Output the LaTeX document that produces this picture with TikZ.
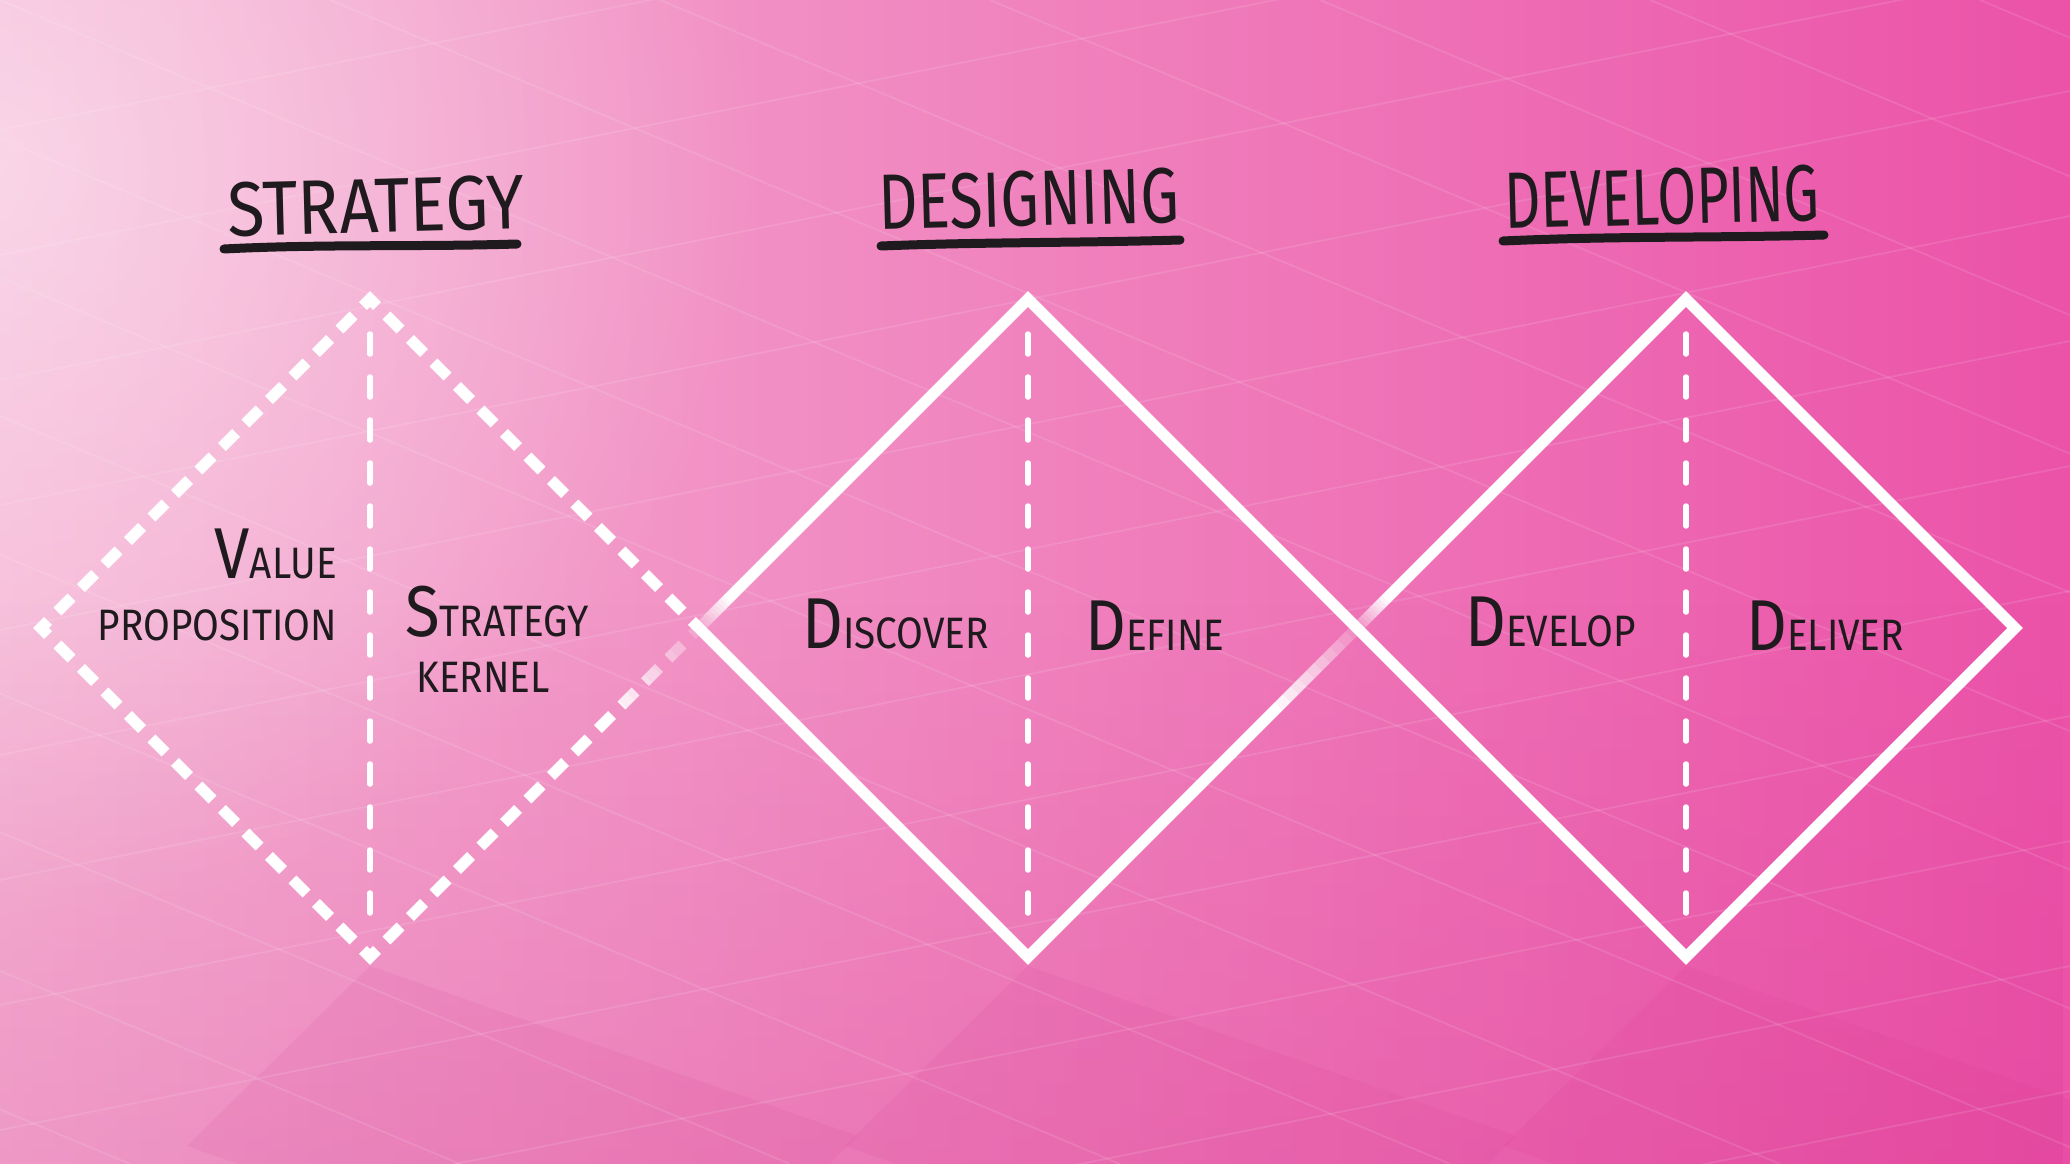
\documentclass[tikz,border=0pt]{standalone}
\usepackage{fontspec}
\usetikzlibrary{calc,fadings}
\newfontfamily\hand[FakeStretch=0.88]{Fira Sans}
\definecolor{bgL}{HTML}{F5B3D4}
\definecolor{bgM}{HTML}{F07BBA}
\definecolor{bgR}{HTML}{EB52A8}
\definecolor{ink}{HTML}{1E1A1D}
\definecolor{shadowc}{HTML}{D42F8C}
\tikzfading[name=glowfade, inner color=transparent!0, outer color=transparent!100]
\tikzfading[name=upfade, top color=transparent!100, bottom color=transparent!0]
\newcommand\capbig[1]{{\fontsize{72}{72}\selectfont #1}}
\newcommand\capsmall[1]{{\fontsize{44}{44}\selectfont #1}}
\tikzset{
  diamondline/.style={white, line width=11pt, line join=miter, miter limit=10},
  midline/.style={white, line width=5.5pt, line cap=round, dash pattern=on 20pt off 23pt},
  gridline/.style={white, opacity=0.11, line width=1.8pt},
  ttl/.style={inner sep=0pt, text=ink, font=\hand},
  lbl/.style={inner sep=0pt, text=ink, font=\hand},
  uline/.style={ink, line width=9pt, line cap=round},
  shadowpoly/.style={fill=shadowc, fill opacity=0.09},
}
\begin{document}
\begin{tikzpicture}[x=1pt,y=-1pt]
\useasboundingbox (0,0) rectangle (2070,1164);
\begin{scope}
\clip (0,0) rectangle (2070,1164);
\shade[left color=bgL, middle color=bgM, right color=bgR] (0,0) rectangle (2070,1164);
\fill[white, opacity=0.45, path fading=glowfade] (0,170) circle (760);
\fill[shadowc, opacity=0.2, path fading=upfade] (0,600) rectangle (2070,1164);
% shadows
\foreach \cx in {370,1028,1686}{
  \fill[shadowpoly] (\cx,966) -- (\cx-183,1146) -- (\cx+305,1316) -- (\cx+488,1136) -- cycle;
}
% grid
\foreach \k in {0,...,12}{
  \draw[gridline] (-100,150+125*\k) -- (2200,150+125*\k-460);
}
\foreach \k in {-8,...,7}{
  \draw[gridline] (330*\k,0) -- (330*\k+2770,1164);
}
\end{scope}

% diamond corners
\coordinate (T1) at (370,299); \coordinate (L1) at (41,628);
\coordinate (B1) at (370,957); \coordinate (R1) at (699,628);
\coordinate (T2) at (1028,299); \coordinate (L2) at (699,628);
\coordinate (B2) at (1028,957); \coordinate (R2) at (1357,628);
\coordinate (T3) at (1686,299); \coordinate (L3) at (1357,628);
\coordinate (B3) at (1686,957); \coordinate (R3) at (2015,628);

% faded pieces (under)
\foreach \i in {0,...,9}{
  \pgfmathsetmacro\da{345.28+12*\i}
  \pgfmathsetmacro\db{\da+12}
  \pgfmathsetmacro\ph{mod(1751.12+12*\i,33.234)}
  \pgfmathsetmacro\op{1-0.08*(\i+1)}
  \draw[diamondline, dash pattern=on 20pt off 13.234pt, dash phase=\ph pt, opacity=\op]
    ($(B1)!\da pt!(R1)$) -- ($(B1)!\db pt!(R1)$);
  \pgfmathsetmacro\sa{40-4*\i}
  \pgfmathsetmacro\sb{\sa-4}
  \draw[diamondline, opacity=\op] ($(L2)!\sa pt!(T2)$) -- ($(L2)!\sb pt!(T2)$);
  \draw[diamondline, opacity=\op] ($(L3)!\sa pt!(T3)$) -- ($(L3)!\sb pt!(T3)$);
  \pgfmathsetmacro\qa{110-11*\i}
  \pgfmathsetmacro\qb{\qa-11}
  \draw[diamondline, opacity=\op] ($(R2)!\qa pt!(B2)$) -- ($(R2)!\qb pt!(B2)$);
}

% dashed first diamond
\draw[diamondline, dash pattern=on 20pt off 13.234pt, dash phase=10pt]
  (R1) -- (T1) -- (L1) -- (B1) -- ($(B1)!345.28pt!(R1)$);
% solid diamonds
\draw[diamondline] ($(L2)!40pt!(T2)$) -- (T2) -- (B3) -- (R3) -- (T3) -- ($(L3)!40pt!(T3)$);
\draw[diamondline] (L2) -- (B2) -- ($(R2)!110pt!(B2)$);

% center dashed lines
\coordinate (m1a) at (370,334); \coordinate (m1b) at (370,926);
\coordinate (m2a) at (1028,334); \coordinate (m2b) at (1028,926);
\coordinate (m3a) at (1686,334); \coordinate (m3b) at (1686,926);
\draw[midline] (m1a) -- (m1b);
\draw[midline] (m2a) -- (m2b);
\draw[midline] (m3a) -- (m3b);

% titles
\node[ttl, rotate=1.5] (t1) at (376,206) {\resizebox{297pt}{54pt}{STRATEGY}};
\node[ttl, rotate=1.5] (t2) at (1029,199) {\resizebox{300pt}{55pt}{DESIGNING}};
\node[ttl, rotate=1.5] (t3) at (1662,197) {\resizebox{314pt}{56pt}{DEVELOPING}};
\draw[uline] (224,249) .. controls (320,244) and (420,247) .. (517,244);
\draw[uline] (881,246) .. controls (980,242) and (1080,243) .. (1180,240);
\draw[uline] (1503,241) .. controls (1610,236) and (1720,238) .. (1824,235);

% labels
\node[lbl, anchor=base east] (value) at (337,578) {\capbig{V}\capsmall{ALUE}};
\node[lbl, anchor=base east] (prop) at (337,640) {\capsmall{PROPOSITION}};
\node[lbl, anchor=base west] (strat) at (405,636) {\capbig{S}\capsmall{TRATEGY}};
\node[lbl, anchor=base west] (kern) at (416,692) {\capsmall{KERNEL}};
\node[lbl, anchor=base west] (disc) at (802,648) {\capbig{D}\capsmall{ISCOVER}};
\node[lbl, anchor=base west] (def) at (1085,650) {\capbig{D}\capsmall{EFINE}};
\node[lbl, anchor=base west] (dev) at (1465,646) {\capbig{D}\capsmall{EVELOP}};
\node[lbl, anchor=base west] (del) at (1746,650) {\capbig{D}\capsmall{ELIVER}};
\end{tikzpicture}
\end{document}
